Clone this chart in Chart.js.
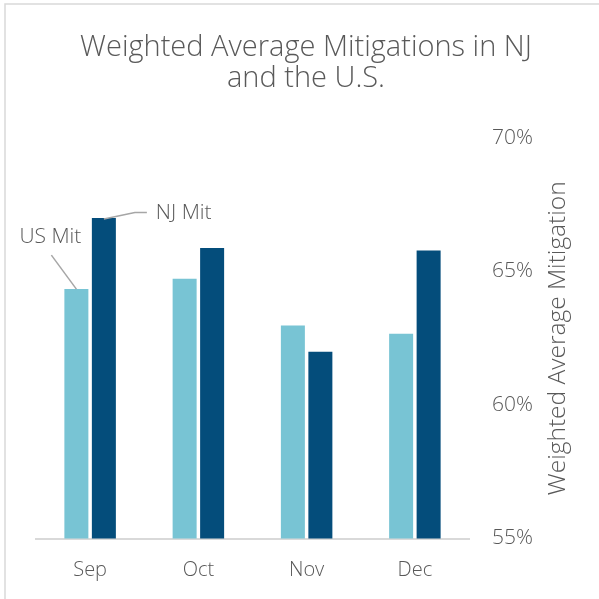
<!DOCTYPE html>
<html>
<head>
<meta charset="utf-8">
<script src="https://cdn.jsdelivr.net/npm/chart.js@4.4.1/dist/chart.umd.min.js"></script>
<style>
  html, body { margin: 0; padding: 0; background: #fff; }
  #wrap { width: 599px; height: 599px; position: relative; }
</style>
</head>
<body>
<div id="wrap"><canvas id="myChart" width="599" height="599"></canvas></div>
<script>
const months = ['Sep', 'Oct', 'Nov', 'Dec'];
const usMit = [64.34, 64.73, 62.98, 62.67];
const njMit = [67.0, 65.88, 61.99, 65.79];
const yTicks = [55, 60, 65, 70];

const textColor = '#595959';
const fontFamily = '"Open Sans", "Liberation Sans", sans-serif';

// frame, title, axis title and the two callouts
const extras = {
    id: 'extras',
    beforeDraw(chart) {
        const c = chart.ctx;
        c.save();
        c.fillStyle = '#fff';
        c.fillRect(0, 0, chart.width, chart.height);
        c.strokeStyle = '#D9D9D9';
        c.lineWidth = 1.5;
        c.beginPath();
        c.moveTo(5, chart.height);
        c.lineTo(5, 4);
        c.lineTo(chart.width, 4);
        c.stroke();
        c.restore();
    },
    afterDatasetsDraw(chart) {
        const c = chart.ctx;
        const area = chart.chartArea;
        c.save();
        c.fillStyle = textColor;
        c.textAlign = 'center';
        c.textBaseline = 'alphabetic';
        c.font = '300 29px ' + fontFamily;
        c.fillText('Weighted Average Mitigations in NJ', 306, 56);
        c.fillText('and the U.S.', 306, 87);

        // y axis title, reads bottom to top
        c.save();
        c.translate(558, (area.top + area.bottom) / 2);
        c.rotate(-Math.PI / 2);
        c.textBaseline = 'middle';
        c.font = '300 24.5px ' + fontFamily;
        c.fillText('Weighted Average Mitigation', 0, 0);
        c.restore();

        // callouts on the first category
        const us = chart.getDatasetMeta(0).data[0];
        const nj = chart.getDatasetMeta(1).data[0];
        c.strokeStyle = '#A6A6A6';
        c.lineWidth = 1.5;
        c.beginPath();
        c.moveTo(us.x, us.y);
        c.lineTo(us.x - 25, us.y - 34);
        c.stroke();
        c.beginPath();
        c.moveTo(nj.x, nj.y + 1);
        c.lineTo(nj.x + 31, nj.y - 5.5);
        c.lineTo(nj.x + 43, nj.y - 5.5);
        c.stroke();

        c.font = '300 21px ' + fontFamily;
        c.textBaseline = 'middle';
        c.textAlign = 'center';
        c.fillText('US Mit', us.x - 26, us.y - 52);
        c.textAlign = 'left';
        c.fillText('NJ Mit', nj.x + 52, nj.y - 5);
        c.restore();
    }
};

const ctx = document.getElementById('myChart').getContext('2d');
const myChart = new Chart(ctx, {
    type: 'bar',
    data: {
        labels: months,
        datasets: [{
            label: 'US Mit',
            data: usMit,
            backgroundColor: '#78C4D4',
            borderWidth: 0
        }, {
            label: 'NJ Mit',
            data: njMit,
            backgroundColor: '#044D7B',
            borderWidth: 0
        }]
    },
    options: {
        responsive: false,
        animation: false,
        events: [],
        layout: {
            padding: { left: 36, top: 138, right: 0, bottom: 0 }
        },
        datasets: {
            bar: { categoryPercentage: 0.508, barPercentage: 0.873 }
        },
        plugins: {
            legend: { display: false },
            title: { display: false },
            tooltip: { enabled: false }
        },
        scales: {
            x: {
                grid: { display: false },
                border: { display: true, color: '#D9D9D9', width: 2 },
                ticks: {
                    color: textColor,
                    padding: 12,
                    font: { family: fontFamily, size: 20, weight: '300' }
                },
                afterFit(scale) { scale.height = 60.5; }
            },
            y: {
                position: 'right',
                min: 55,
                max: 70,
                grid: { display: false },
                border: { display: false },
                afterBuildTicks(scale) {
                    scale.ticks = yTicks.map(v => ({ value: v }));
                },
                ticks: {
                    color: textColor,
                    padding: 15,
                    font: { family: fontFamily, size: 21, weight: '300' },
                    callback: v => v + '%'
                },
                afterFit(scale) { scale.width = 130; }
            }
        }
    },
    plugins: [extras]
});
</script>
</body>
</html>
